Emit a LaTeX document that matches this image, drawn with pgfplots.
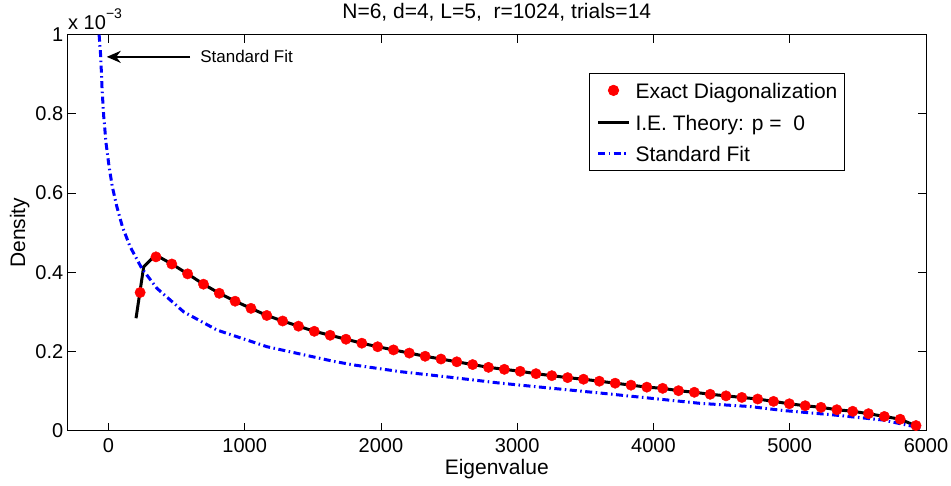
\documentclass[border=0pt]{standalone}
\usepackage{pgfplots}
\pgfplotsset{compat=1.18}
\usepackage{pgfplotstable}
\usepackage{fontspec}
\setmainfont{Liberation Sans}
\setsansfont{Liberation Sans}
\usetikzlibrary{arrows.meta}

\pgfplotstableread{
x y
233 0.349
349.2 0.439
465.4 0.421
581.6 0.396
697.8 0.370
814 0.347
930.2 0.327
1046.4 0.309
1162.6 0.291
1278.8 0.277
1395 0.264
1511.2 0.251
1627.4 0.241
1743.6 0.231
1859.8 0.221
1976 0.212
2092.2 0.204
2208.4 0.196
2324.6 0.188
2440.8 0.181
2557 0.174
2673.2 0.167
2789.4 0.160
2905.6 0.155
3021.8 0.150
3138 0.144
3254.2 0.139
3370.4 0.134
3486.6 0.130
3602.8 0.125
3719 0.120
3835.2 0.115
3951.4 0.110
4067.6 0.107
4183.8 0.101
4300 0.097
4416.2 0.092
4532.4 0.088
4648.6 0.084
4764.8 0.080
4881 0.074
4997.2 0.068
5113.4 0.063
5229.6 0.059
5345.8 0.053
5462 0.049
5578.2 0.043
5694.4 0.036
5810.6 0.029
5926.8 0.013
}\eddata

\pgfplotstableread{
x y
203 0.284
259 0.414
333 0.439
382 0.437
465.4 0.421
581.6 0.396
697.8 0.370
814 0.347
930.2 0.327
1046.4 0.309
1162.6 0.291
1278.8 0.277
1395 0.264
1511.2 0.251
1627.4 0.241
1743.6 0.231
1859.8 0.221
1976 0.212
2092.2 0.204
2208.4 0.196
2324.6 0.188
2440.8 0.181
2557 0.174
2673.2 0.167
2789.4 0.160
2905.6 0.155
3021.8 0.150
3138 0.144
3254.2 0.139
3370.4 0.134
3486.6 0.130
3602.8 0.125
3719 0.120
3835.2 0.115
3951.4 0.110
4067.6 0.107
4183.8 0.101
4300 0.097
4416.2 0.092
4532.4 0.088
4648.6 0.084
4764.8 0.080
4881 0.074
4997.2 0.068
5113.4 0.063
5229.6 0.059
5345.8 0.053
5462 0.049
5578.2 0.043
5694.4 0.036
5810.6 0.029
5900 0.016
5952 0.006
}\iedata

\pgfplotstableread{
x y
-68 1.000
-56 0.944
-46 0.860
-34 0.793
-17 0.726
5 0.667
29 0.616
62 0.566
103 0.515
159 0.465
245 0.410
355 0.360
553 0.300
798 0.254
1165 0.212
1655 0.175
1801 0.166
2144 0.149
2483 0.136
2878 0.120
3612 0.095
3979 0.082
4345 0.069
4708 0.061
4952 0.051
5317 0.040
5684 0.027
5931 0.009
5955 0.004
}\sfdata

\begin{document}
\begin{tikzpicture}
\useasboundingbox (-67.5pt,-54.3pt) rectangle (883.5pt,430.7pt);
\begin{axis}[
  at={(0,0)}, anchor=south west,
  scale only axis, width=858.5pt, height=396pt,
  xmin=-300, xmax=6000, ymin=0, ymax=1,
  xtick={0,1000,2000,3000,4000,5000,6000},
  ytick={0,0.2,0.4,0.6,0.8,1},
  scaled ticks=false,
  /pgf/number format/assume math mode=true,
  /pgf/number format/1000 sep={},
  tick pos=both, tick align=inside, major tick length=8pt,
  every tick/.style={line width=0.8pt, black},
  axis line style={line width=0.8pt},
  tick label style={font=\fontsize{20}{24}\selectfont},
  xticklabel style={anchor=base, inner sep=0pt, yshift=-22pt},
  yticklabel style={anchor=east, inner sep=0pt, xshift=-4pt},
  xlabel={Eigenvalue}, ylabel={Density},
  label style={font=\fontsize{21}{25}\selectfont},
  xlabel style={at={(axis description cs:0.5,0)}, anchor=base, yshift=-43.6pt, inner sep=0pt},
  ylabel style={at={(axis description cs:-0.0557,0.5)}, anchor=center, inner sep=0pt},
  title={N=6, d=4, L=5,\ \ r=1024, trials=14},
  title style={at={(axis description cs:0.5,1)}, anchor=base, yshift=10.4pt, inner sep=0pt, font=\fontsize{21}{25}\selectfont},
  legend style={at={(axis description cs:0.9055,0.9033)}, anchor=north east, draw=black, line width=0.8pt, fill=white,
    inner xsep=7pt, inner ysep=5pt, row sep=7.67pt, column sep=5pt,
    font=\fontsize{21}{25}\selectfont,
    nodes={inner sep=0pt, text height=20pt, text depth=4pt}},
  legend cell align=left,
  legend image code/.code={\draw[mark repeat=2,mark phase=2,#1] plot coordinates {(0pt,0pt)(15.5pt,0pt)(31pt,0pt)};},
]
\addplot[only marks, mark=*, mark size=5.2pt, color=red, mark options={fill=red, draw=red}] table {\eddata};
\addlegendentry{Exact Diagonalization}
\addplot[black, line width=3pt, mark=none] table {\iedata};
\addlegendentry{I.E. Theory: p =\ \ 0}
\addplot[blue, line width=3pt, dash pattern=on 7pt off 3.5pt on 1.5pt off 3.5pt, mark=none] table {\sfdata};
\addlegendentry{Standard Fit}
\draw[-{Stealth[length=14pt,width=12pt]}, line width=2.2pt] (axis cs:600,0.944) -- (axis cs:-12,0.944);
\node[anchor=west, inner sep=0pt, font=\fontsize{17}{20}\selectfont] at (axis cs:673,0.944) {Standard Fit};
\end{axis}
\node[anchor=base west, inner sep=0pt, font=\fontsize{20}{24}\selectfont, xshift=0.5pt, yshift=5.4pt] at (current axis.north west) {x 10\raisebox{11pt}{\fontsize{14}{16}\selectfont −3}};
\end{tikzpicture}
\end{document}
